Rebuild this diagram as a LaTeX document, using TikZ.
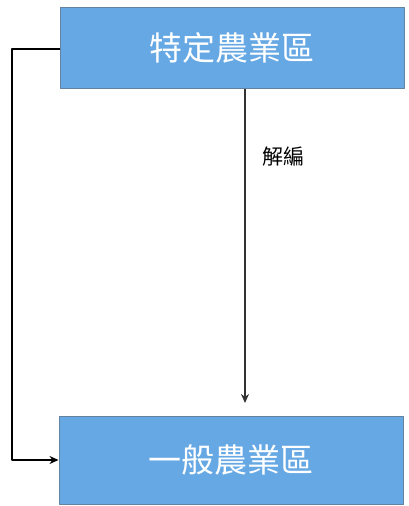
\documentclass[tikz,border=0pt]{standalone}
\usepackage{fontspec}
\newfontfamily\cjk{Noto Sans CJK TC}
\usetikzlibrary{positioning,arrows.meta}
\definecolor{boxfill}{RGB}{102,168,228}
\definecolor{boxline}{RGB}{98,130,160}
\begin{document}
\begin{tikzpicture}[x=1pt, y=-1pt, line join=round, >={Stealth[length=9pt,width=8pt]},
    zone/.style={draw=boxline, line width=1pt, fill=boxfill, text=white, minimum width=344pt, font=\cjk\fontsize{33}{33}\selectfont, inner sep=0pt}]
    \useasboundingbox (0,0) rectangle (408,506);
    \node[zone, minimum height=81pt] (tezone) at (232,47.5) {特定農業區};
    \node[zone, minimum height=88pt] (ybzone) at (231,460) {一般農業區};
    \coordinate (tip) at (245,403);
    \coordinate (bend) at (12,49);
    \draw[->, line width=1.5pt, gray!40!black] (tezone.south -| tip) -- (tip);
    \node[font=\cjk\fontsize{21}{21}\selectfont] (jiebian) at (283,157) {解編};
    \draw[->, line width=1.5pt] (tezone.west |- bend) -- (bend) -- (bend |- ybzone.west) -- (ybzone.west);
\end{tikzpicture}
\end{document}
